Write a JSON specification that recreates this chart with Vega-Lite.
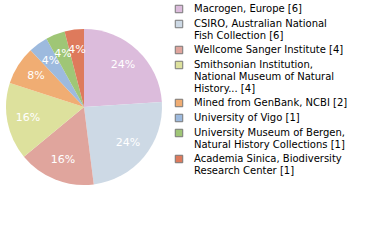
{
  "$schema": "https://vega.github.io/schema/vega-lite/v6.json",
  "autosize": "none",
  "width": 168,
  "height": 214,
  "padding": {"left": 0, "top": 0, "right": 212, "bottom": 26},
  "background": "white",
  "config": {"view": {"stroke": null}, "font": "DejaVu Sans"},
  "data": {"values": [
    {"idx": 1, "label": "Macrogen, Europe [6]", "value": 6, "pct": "24%"},
    {"idx": 2, "label": "CSIRO, Australian National|Fish Collection [6]", "value": 6, "pct": "24%"},
    {"idx": 3, "label": "Wellcome Sanger Institute [4]", "value": 4, "pct": "16%"},
    {"idx": 4, "label": "Smithsonian Institution,|National Museum of Natural|History... [4]", "value": 4, "pct": "16%"},
    {"idx": 5, "label": "Mined from GenBank, NCBI [2]", "value": 2, "pct": "8%"},
    {"idx": 6, "label": "University of Vigo [1]", "value": 1, "pct": "4%"},
    {"idx": 7, "label": "University Museum of Bergen,|Natural History Collections [1]", "value": 1, "pct": "4%"},
    {"idx": 8, "label": "Academia Sinica, Biodiversity|Research Center [1]", "value": 1, "pct": "4%"}
  ]},
  "encoding": {
    "theta": {"field": "value", "type": "quantitative", "stack": true},
    "order": {"field": "idx", "type": "quantitative"}
  },
  "layer": [
    {"mark": {"type": "arc", "outerRadius": 78},
     "encoding": {
      "color": {
      "field": "label", "type": "nominal",
      "scale": {
        "domain": ["Macrogen, Europe [6]", "CSIRO, Australian National|Fish Collection [6]", "Wellcome Sanger Institute [4]", "Smithsonian Institution,|National Museum of Natural|History... [4]", "Mined from GenBank, NCBI [2]", "University of Vigo [1]", "University Museum of Bergen,|Natural History Collections [1]", "Academia Sinica, Biodiversity|Research Center [1]"],
        "range": ["#dcbcdc", "#cdd9e5", "#e0a59d", "#dde19d", "#f0ad73", "#9dbade", "#9fc676", "#de7a5c"]
      },
      "legend": {
        "title": null,
        "orient": "none",
        "legendX": 174,
        "legendY": 4,
        "symbolType": "square",
        "symbolSize": 56,
        "symbolStrokeColor": "#777777",
        "symbolStrokeWidth": 1,
        "symbolOpacity": 1,
        "labelFont": "DejaVu Sans",
        "labelFontSize": 10,
        "labelColor": "#000000",
        "labelLimit": 300,
        "labelOffset": 10,
        "rowPadding": 3,
        "labelExpr": "split(datum.label, '|')"
      }
    }}},
    {"mark": {"type": "text", "radius": 57, "fontSize": 11, "font": "DejaVu Sans"},
     "encoding": {"text": {"field": "pct", "type": "nominal"}, "color": {"value": "white"}}}
  ]
}
